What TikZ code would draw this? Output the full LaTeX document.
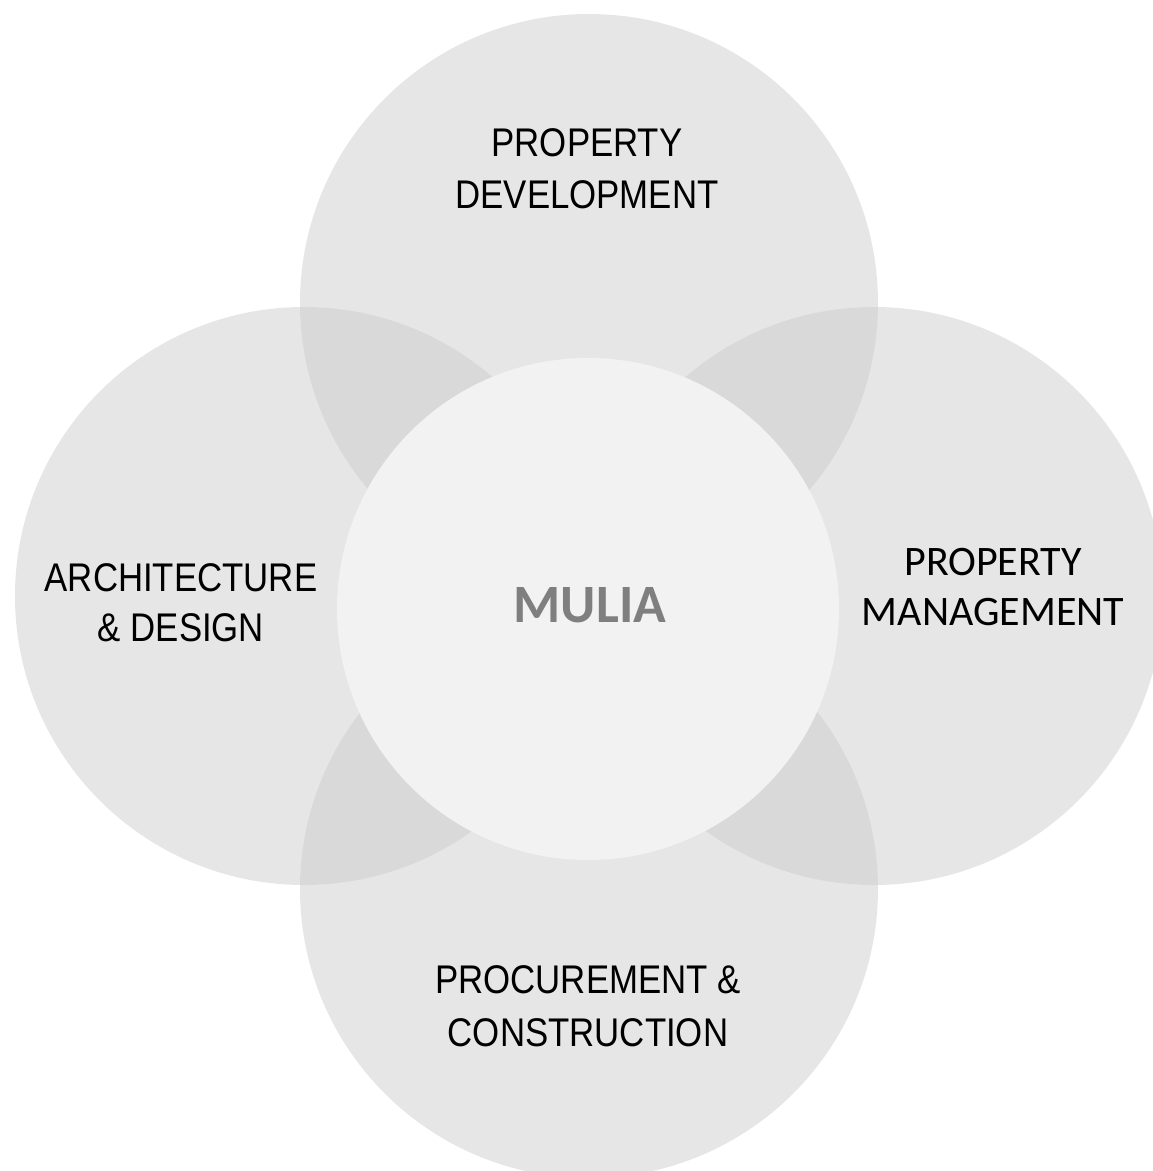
\documentclass[tikz,border=0pt]{standalone}
\usepackage{fontspec}
\newfontfamily\arialn[FakeStretch=0.87]{Liberation Sans}
\newfontfamily\calib{Carlito}
\definecolor{ringgray}{RGB}{203,203,203}
\definecolor{coregray}{RGB}{242,242,242}
\definecolor{coretext}{RGB}{127,127,127}
\begin{document}
\begin{tikzpicture}[x=1pt,y=-1pt,
  petal/.style={circle,fill=ringgray,fill opacity=0.48,draw=none,minimum size=578pt,inner sep=0pt},
  core/.style={circle,fill=coregray,draw=none,minimum size=502pt,inner sep=0pt},
  lbl/.style={align=center,inner sep=0pt,text=black}]
\useasboundingbox (0,0) rectangle (1153,1171);
\clip (0,0) rectangle (1153,1171);
\node[petal] (top) at (589,303) {};
\node[petal] (right) at (874,596) {};
\node[petal] (bottom) at (589,889) {};
\node[petal] (left) at (304,596) {};
\node[core] (mulia) at (588,609) {};
\node[inner sep=0pt,text=coretext,font=\calib\bfseries\fontsize{54}{60}\selectfont] (muliatext) at (590,605.5) {MULIA};
\node[lbl,font=\arialn\fontsize{40}{52}\selectfont] (toptext) at (587,169) {PROPERTY\\DEVELOPMENT};
\node[lbl,font=\calib\fontsize{42}{50}\selectfont] (righttext) at (993,587) {PROPERTY\\MANAGEMENT};
\node[lbl,font=\arialn\fontsize{40}{50}\selectfont] (lefttext) at (181,603) {ARCHITECTURE\\\& DESIGN};
\node[lbl,font=\arialn\fontsize{40}{53}\selectfont] (bottomtext) at (588,1006) {PROCUREMENT \&\\CONSTRUCTION};
\end{tikzpicture}
\end{document}
